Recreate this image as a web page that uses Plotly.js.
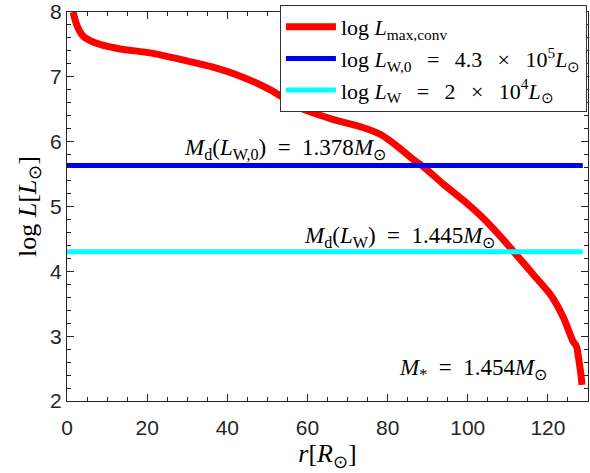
<!DOCTYPE html>
<html>
<head>
<meta charset="utf-8">
<script src="https://cdn.plot.ly/plotly-3.0.1.min.js"></script>
<style>html,body{margin:0;padding:0;background:#fff;}#chart{width:590px;height:473px;}</style>
</head>
<body>
<div id="chart"></div>
<script>
// Data
const rValues = [1.5, 2.5, 4, 5.75, 8.25, 13.25, 20.75, 28.25, 35.75, 43.25, 50.75, 58.25, 66.5, 73.25, 78.25, 82.4, 86.5, 89, 94, 99, 104, 108.25, 111.5, 116.5, 120.75, 124, 126.25, 127, 127.3, 127.75, 128.25, 128.5];
const logLmaxConv = [8.0, 7.79, 7.63, 7.56, 7.50, 7.43, 7.37, 7.27, 7.16, 7.01, 6.80, 6.52, 6.34, 6.23, 6.11, 5.93, 5.72, 5.61, 5.34, 5.09, 4.81, 4.53, 4.30, 3.94, 3.63, 3.27, 2.92, 2.86, 2.80, 2.62, 2.40, 2.25];
const logLW0 = 5.633;   // log(4.3e5)
const logLW = 4.301;    // log(2e4)
const hLineX = [0, 128.7];
const sp = '\u2002';
const lsp = '\u2002\u2009';
const legendNames = [
  'log <i>L</i><sub>max,conv</sub>',
  'log <i>L</i><sub>W,0</sub>' + lsp + '=' + lsp + '4.3' + lsp + '×' + lsp + '10<sup>5</sup><i>L</i><sub>⊙</sub>',
  'log <i>L</i><sub>W</sub>' + lsp + '=' + lsp + '2' + lsp + '×' + lsp + '10<sup>4</sup><i>L</i><sub>⊙</sub>'
];
const annTexts = [
  '<i>M</i><sub>d</sub>(<i>L</i><sub>W,0</sub>)' + sp + '=' + sp + '1.378<i>M</i><sub>⊙</sub>',
  '<i>M</i><sub>d</sub>(<i>L</i><sub>W</sub>)' + sp + '=' + sp + '1.445<i>M</i><sub>⊙</sub>',
  '<i>M</i><sub>*</sub>' + sp + '=' + sp + '1.454<i>M</i><sub>⊙</sub>'
];
const annX = [54.5, 82.9, 101.4];
const annY = [5.89, 4.53, 2.49];

const serif = 'Liberation Serif, Times New Roman, serif';
const sans = 'Liberation Sans, Arial, sans-serif';

const traces = [
  {x: rValues, y: logLmaxConv, mode: 'lines', name: legendNames[0],
   line: {color: '#ff0000', width: 7, shape: 'spline', smoothing: 0.6}},
  {x: hLineX, y: hLineX.map(() => logLW0), mode: 'lines', name: legendNames[1],
   line: {color: '#0000ee', width: 5}},
  {x: hLineX, y: hLineX.map(() => logLW), mode: 'lines', name: legendNames[2],
   line: {color: '#00ffff', width: 5}}
];

const axisCommon = {
  showgrid: false, zeroline: false, showline: true, linecolor: '#262626', linewidth: 1,
  mirror: 'allticks', ticks: 'inside', ticklen: 7, tickcolor: '#262626',
  ticklabeloverflow: 'allow',
  tickfont: {family: sans, size: 21, color: '#262626'}
};

const layout = {
  width: 590, height: 473,
  margin: {l: 67, r: 2, t: 12, b: 72},
  paper_bgcolor: '#fff', plot_bgcolor: '#fff',
  showlegend: true,
  legend: {x: 0.998, y: 1.018, xanchor: 'right', yanchor: 'top',
    bgcolor: '#fff', bordercolor: '#333', borderwidth: 1, itemwidth: 50,
    font: {family: serif, size: 22, color: '#000'}, tracegroupgap: 0},
  xaxis: Object.assign({}, axisCommon, {
    range: [0, 130], tick0: 0, dtick: 20, ticklabelstandoff: 8,
    minor: {dtick: 5, ticks: 'inside', ticklen: 4, tickcolor: '#262626'},
    title: {text: '<i>r</i>[<i>R</i><sub>⊙</sub>]', font: {family: serif, size: 26, color: '#000'}, standoff: 4}
  }),
  yaxis: Object.assign({}, axisCommon, {
    range: [2, 8], tick0: 2, dtick: 1,
    minor: {dtick: 0.2, ticks: 'inside', ticklen: 4, tickcolor: '#262626'},
    title: {text: 'log <i>L</i>[<i>L</i><sub>⊙</sub>]', font: {family: serif, size: 26, color: '#000'}, standoff: 6}
  }),
  annotations: annTexts.map((t, i) => ({
    x: annX[i], y: annY[i], xref: 'x', yref: 'y', text: t, showarrow: false,
    font: {family: serif, size: 23, color: '#000'}
  }))
};

Plotly.newPlot('chart', traces, layout, {displayModeBar: false, staticPlot: true});
</script>
</body>
</html>
